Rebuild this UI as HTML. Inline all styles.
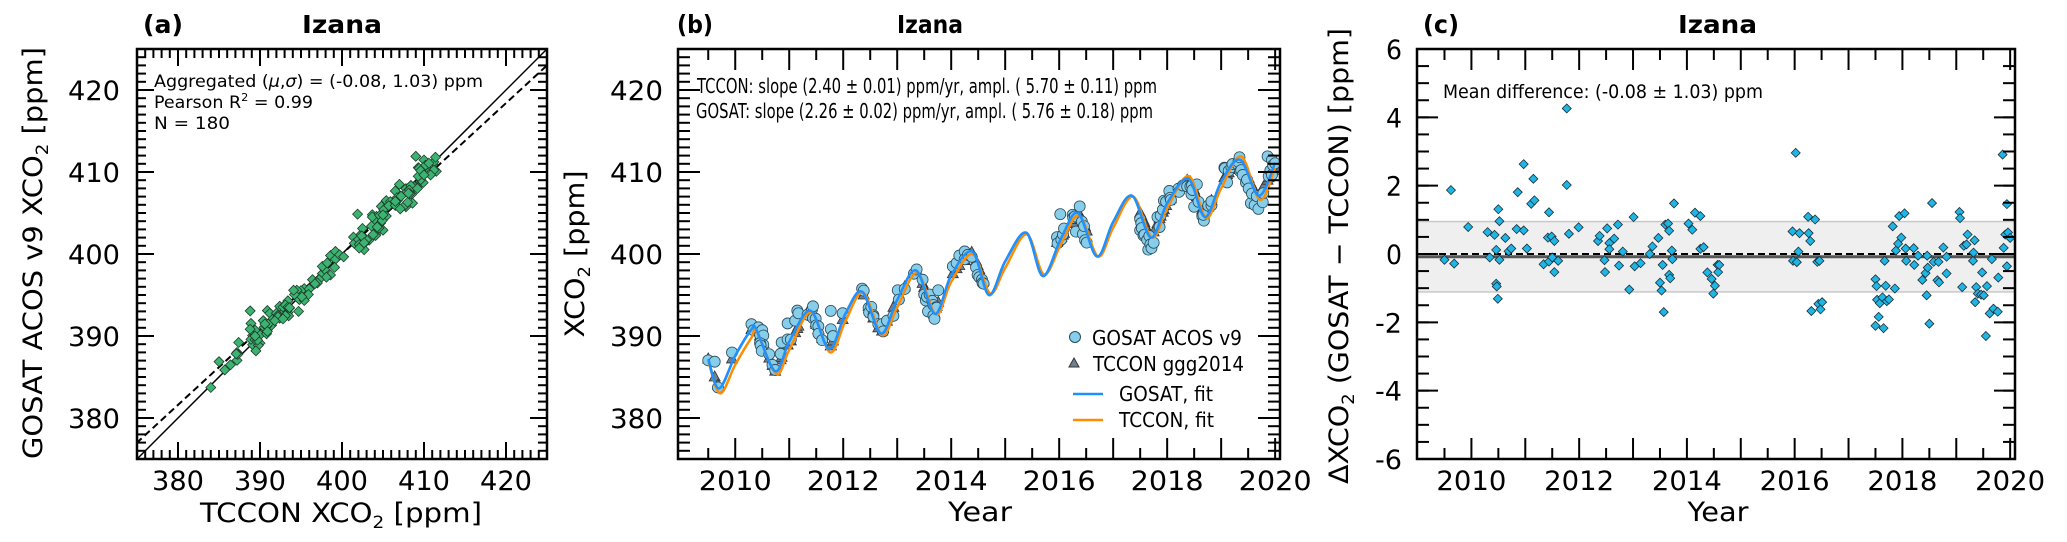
<!DOCTYPE html>
<html><head><meta charset="utf-8"><style>
html,body{margin:0;padding:0;background:#fff;}
svg{display:block;font-family:"DejaVu Sans","Liberation Sans",sans-serif;}
</style></head><body>
<svg id="fig" width="2067" height="542" viewBox="0 0 2067 542" xmlns="http://www.w3.org/2000/svg">
<defs>
<clipPath id="clipA"><rect x="137" y="49" width="410" height="410"/></clipPath>
<clipPath id="clipB"><rect x="678" y="49" width="602" height="410"/></clipPath>
<clipPath id="clipC"><rect x="1417" y="49" width="598" height="410"/></clipPath>
</defs>
<!-- Titles -->
<text x="143" y="33" font-size="25" font-weight="bold" textLength="40" lengthAdjust="spacingAndGlyphs">(a)</text>
<text x="302" y="33" font-size="25" font-weight="bold" textLength="80" lengthAdjust="spacingAndGlyphs">Izana</text>
<text x="677" y="33" font-size="25" font-weight="bold" textLength="36" lengthAdjust="spacingAndGlyphs">(b)</text>
<text x="897" y="33" font-size="25" font-weight="bold" textLength="66" lengthAdjust="spacingAndGlyphs">Izana</text>
<text x="1423" y="33" font-size="25" font-weight="bold" textLength="36" lengthAdjust="spacingAndGlyphs">(c)</text>
<text x="1678" y="33" font-size="25" font-weight="bold" textLength="79" lengthAdjust="spacingAndGlyphs">Izana</text>
<!-- Axis titles -->
<text x="200" y="522" font-size="27" textLength="282" lengthAdjust="spacingAndGlyphs">TCCON XCO<tspan font-size="17" dy="6">2</tspan><tspan dy="-6"> [ppm]</tspan></text>
<text transform="translate(42,253) rotate(-90)" text-anchor="middle" font-size="27" textLength="412" lengthAdjust="spacingAndGlyphs">GOSAT ACOS v9 XCO<tspan font-size="17" dy="6">2</tspan><tspan dy="-6"> [ppm]</tspan></text>
<text x="980" y="521" text-anchor="middle" font-size="27" textLength="64" lengthAdjust="spacingAndGlyphs">Year</text>
<text transform="translate(584,254) rotate(-90)" text-anchor="middle" font-size="27" textLength="167" lengthAdjust="spacingAndGlyphs">XCO<tspan font-size="17" dy="6">2</tspan><tspan dy="-6"> [ppm]</tspan></text>
<text x="1718" y="521" text-anchor="middle" font-size="27" textLength="61" lengthAdjust="spacingAndGlyphs">Year</text>
<text transform="translate(1348,256) rotate(-90)" text-anchor="middle" font-size="27" textLength="456" lengthAdjust="spacingAndGlyphs">ΔXCO<tspan font-size="17" dy="6">2</tspan><tspan dy="-6"> (GOSAT − TCCON) [ppm]</tspan></text>
<g id="gA"></g>
<g id="gB"></g>
<g id="gC"></g>
<!-- Annotations -->
<text x="154" y="87" font-size="17" textLength="329" lengthAdjust="spacingAndGlyphs">Aggregated (<tspan font-style="italic">μ</tspan>,<tspan font-style="italic">σ</tspan>) = (-0.08, 1.03) ppm</text>
<text x="154" y="108" font-size="17" textLength="159" lengthAdjust="spacingAndGlyphs">Pearson R<tspan font-size="11" dy="-7">2</tspan><tspan dy="7"> = 0.99</tspan></text>
<text x="154" y="129" font-size="17" textLength="76" lengthAdjust="spacingAndGlyphs">N =  180</text>
<text x="697" y="93" font-size="20" textLength="460" lengthAdjust="spacingAndGlyphs">TCCON: slope (2.40 ± 0.01) ppm/yr, ampl. ( 5.70 ± 0.11) ppm</text>
<text x="696" y="118" font-size="20" textLength="457" lengthAdjust="spacingAndGlyphs">GOSAT: slope (2.26 ± 0.02) ppm/yr, ampl. ( 5.76 ± 0.18) ppm</text>
<text x="1443" y="98" font-size="19" textLength="320" lengthAdjust="spacingAndGlyphs">Mean difference: (-0.08 ± 1.03) ppm</text>
<!-- Legend panel b -->
<g>
<circle cx="1075" cy="337" r="5.5" fill="#87ceeb" stroke="#2a4a5a" stroke-width="1"/>
<text x="1092" y="345" font-size="20" textLength="150" lengthAdjust="spacingAndGlyphs">GOSAT ACOS v9</text>
<polygon points="1074,358 1079,367 1069,367" fill="#708090" stroke="#333" stroke-width="1"/>
<text x="1093" y="371" font-size="20" textLength="151" lengthAdjust="spacingAndGlyphs">TCCON ggg2014</text>
<line x1="1073" y1="394" x2="1103" y2="394" stroke="#1e90ff" stroke-width="2.5"/>
<text x="1119" y="401" font-size="20" textLength="94" lengthAdjust="spacingAndGlyphs">GOSAT, fit</text>
<line x1="1073" y1="420" x2="1103" y2="420" stroke="#ff8c00" stroke-width="2.5"/>
<text x="1119" y="427" font-size="20" textLength="95" lengthAdjust="spacingAndGlyphs">TCCON, fit</text>
</g>
</svg>
<script>
const dates=[2009.50,2009.62,2009.68,2009.94,2010.30,2010.34,2010.43,2010.46,2010.50,2010.52,
2010.52,2010.46,2010.47,2010.49,2010.63,2010.69,2010.74,2010.84,2010.86,2010.97,
2010.97,2011.03,2011.11,2011.15,2011.17,2011.34,2011.42,2011.44,2011.44,2011.49,
2011.50,2011.54,2011.54,2011.61,2011.77,2011.77,2011.81,2011.99,2012.35,2012.38,
2012.47,2012.48,2012.52,2012.56,2012.56,2012.65,2012.72,2012.74,2012.81,2012.93,
2013.01,2013.03,2013.14,2013.31,2013.36,2013.47,2013.50,2013.53,2013.55,2013.57,
2013.60,2013.65,2013.67,2013.67,2013.69,2013.72,2013.73,2013.76,2014.03,2014.10,
2014.15,2014.25,2014.25,2014.31,2014.38,2014.46,2014.49,2014.52,2014.57,2014.58,
2014.60,2015.96,2015.97,2016.02,2016.04,2016.07,2016.09,2016.25,2016.26,2016.29,
2016.31,2016.38,2016.42,2016.44,2016.46,2016.48,2016.51,2017.50,2017.52,2017.50,
2017.53,2017.56,2017.58,2017.63,2017.65,2017.67,2017.69,2017.71,2017.75,2017.82,
2017.86,2017.88,2017.92,2017.94,2017.98,2018.04,2018.06,2018.07,2018.21,2018.22,
2018.29,2018.37,2018.43,2018.45,2018.46,2018.47,2018.50,2018.55,2018.58,2018.65,
2018.68,2018.67,2018.76,2018.82,2018.82,2019.06,2019.07,2019.11,2019.14,2019.19,
2019.21,2019.31,2019.32,2019.34,2019.35,2019.37,2019.40,2019.46,2019.48,2019.51,
2019.55,2019.57,2019.62,2019.66,2019.69,2019.77,2019.78,2019.86,2019.88,2019.91,
2019.94,2019.94,2019.96,2020.00];
const tccon=[387.2,385.0,384.0,387.2,390.8,390.8,390.5,390.0,389.4,389.1,
389.1,390.0,389.8,389.5,387.3,386.4,385.7,387.1,387.4,388.9,
388.9,389.4,390.4,390.9,391.2,392.9,392.7,392.4,392.4,391.6,
391.4,390.8,390.8,389.7,388.8,388.8,389.4,392.0,395.4,395.0,
393.6,393.4,392.8,392.2,392.2,391.0,390.6,390.9,391.8,393.5,
394.5,394.8,396.0,397.6,397.9,396.4,395.9,395.4,395.1,394.7,
394.2,393.4,393.1,393.1,392.8,393.4,393.6,394.1,397.6,398.2,
398.6,399.2,399.2,399.7,400.2,399.1,398.6,398.1,397.2,397.0,
396.7,401.4,401.5,401.9,402.0,402.3,402.5,403.7,403.8,404.2,
404.4,404.8,404.2,403.9,403.6,403.3,402.8,405.0,404.7,405.0,
404.5,404.1,403.8,403.0,402.7,402.4,402.1,402.1,402.7,403.7,
404.3,404.6,405.1,405.4,405.9,406.5,406.7,406.8,407.8,407.9,
408.4,409.0,408.8,408.5,408.4,408.2,407.8,407.0,406.6,405.4,
404.9,405.0,405.7,406.5,406.5,409.3,409.4,409.7,409.9,410.3,
410.4,411.1,411.2,411.4,411.5,411.2,410.8,409.9,409.6,409.2,
408.6,408.3,407.7,407.2,407.1,408.0,408.1,409.0,409.3,409.6,
410.0,410.0,410.2,410.6];
const diffs=[-0.17,1.87,-0.28,0.79,0.64,-0.10,0.56,0.12,1.31,0.96,
-0.17,-0.87,-0.95,-1.31,0.47,0.08,0.16,0.73,1.81,0.69,
2.63,0.16,1.47,2.20,1.57,-0.30,0.48,1.22,-0.22,0.51,
-0.10,0.38,-0.53,-0.20,4.26,2.02,0.59,0.78,0.38,0.53,
-0.18,-0.53,0.75,0.32,0.14,0.45,0.86,-0.34,0.07,-1.04,
1.08,-0.36,-0.27,0.00,0.22,0.47,-0.84,-1.07,-0.32,-1.70,
0.86,0.89,0.68,-0.61,-0.71,0.10,-0.15,1.48,0.89,0.71,
1.21,1.11,0.15,0.20,-0.54,-0.73,-1.16,-0.93,-0.32,-0.53,
-0.32,0.66,-0.20,2.96,-0.24,0.07,0.61,1.09,0.61,0.38,
-1.67,1.01,-0.23,-1.46,-0.20,-1.62,-1.41,-0.74,-0.94,-2.10,
-1.34,-1.84,-1.44,-1.27,-2.17,-0.20,-0.93,-1.38,-1.33,0.81,
-1.01,0.10,0.30,1.11,0.48,1.19,0.16,-0.20,0.17,-0.32,
-0.05,-0.76,-0.56,-1.21,-0.05,-0.40,-2.04,1.49,-0.23,-0.77,
-0.83,-0.23,0.19,-0.57,-0.08,1.23,1.05,-0.97,0.24,0.28,
0.57,-0.20,0.04,0.40,-1.41,-0.97,-1.16,-1.19,-0.54,-1.21,
-2.40,-0.94,-1.74,-0.15,-1.60,-1.69,-0.69,2.91,0.18,0.57,
-0.36,1.46,0.63,0.47];
const gosatFitX=[2009.50,2009.70,2010.0,2010.30,2010.39,2010.74,2011.0,2011.39,2011.74,2012.04,2012.35,2012.70,2013.0,2013.35,2013.70,2014.0,2014.39,2014.70,2015.0,2015.39,2015.70,2016.04,2016.35,2016.70,2017.0,2017.35,2017.70,2018.0,2018.39,2018.70,2019.0,2019.35,2019.70,2020.0];
const gosatFitY=[387.2,383.6,387.6,390.8,390.8,385.7,389.3,393.1,388.4,392.7,395.4,390.3,394.4,398.0,392.7,397.4,400.3,395.0,399.1,402.6,397.3,402.0,405.0,399.7,403.9,407.1,402.0,406.2,409.2,404.5,408.8,411.5,407.1,411.1];
const tcconFitX=[2009.50,2009.72,2010.0,2010.30,2010.40,2010.76,2011.0,2011.40,2011.76,2012.04,2012.37,2012.72,2013.0,2013.37,2013.72,2014.0,2014.40,2014.72,2015.0,2015.40,2015.72,2016.04,2016.37,2016.72,2017.0,2017.37,2017.72,2018.0,2018.40,2018.72,2019.0,2019.37,2019.72,2020.0];
const tcconFitY=[387.0,383.0,386.5,389.8,390.5,385.4,388.3,392.9,388.0,391.8,395.3,390.1,393.5,397.7,392.6,396.6,400.0,395.2,398.3,402.4,397.5,401.3,404.7,399.7,403.2,407.0,402.0,405.6,409.5,404.4,408.0,411.9,406.6,410.5];
const ppmTicks=[380,390,400,410,420];
const yearTicks=[2010,2012,2014,2016,2018,2020];
const diffTicks=[-6,-4,-2,0,2,4,6];
const meanDiff=-0.08;
const sdDiff=1.03;
const regSlope=0.92;
const regAt400=400.0;

const NS='http://www.w3.org/2000/svg';
function mk(tag,attrs,parent){const e=document.createElementNS(NS,tag);for(const k in attrs)e.setAttribute(k,attrs[k]);parent.appendChild(e);return e;}
function lin(d0,d1,r0,r1){return v=>r0+(v-d0)/(d1-d0)*(r1-r0);}

const A={x0:137,x1:547,y0:49,y1:459}, B={x0:678,x1:1280,y0:49,y1:459}, C={x0:1417,x1:2015,y0:49,y1:459};
const ax=lin(375,425,A.x0,A.x1), ay=lin(375,425,A.y1,A.y0);
const bx=lin(2008.94,2020.09,B.x0,B.x1), by=lin(375,425,B.y1,B.y0);
const cx=lin(2008.99,2020.09,C.x0,C.x1), cy=lin(-6,6,C.y1,C.y0);
const gA=document.getElementById('gA'), gB=document.getElementById('gB'), gC=document.getElementById('gC');

function ticks(g,P,vals,sc,axis,len,sides,name){
  vals.forEach(v=>{
    const p=sc(v);
    sides.forEach(s=>{
      let a;
      if(axis==='x'){a=s==='b'?{x1:p,y1:P.y1,x2:p,y2:P.y1-len}:{x1:p,y1:P.y0,x2:p,y2:P.y0+len};}
      else{a=s==='l'?{x1:P.x0,y1:p,x2:P.x0+len,y2:p}:{x1:P.x1,y1:p,x2:P.x1-len,y2:p};}
      a.stroke='#000';a['stroke-width']=2;
      const t=mk('line',a,g);
      
      
    });
  });
}
function range(a,b,s){const r=[];for(let v=a;v<=b+1e-9;v+=s)r.push(+v.toFixed(3));return r;}
function label(g,x,y,txt,anchor,w,name){
  const t=mk('text',{x:x,y:y,'text-anchor':anchor,'font-size':27,textLength:w,lengthAdjust:'spacingAndGlyphs'},g);
  t.textContent=txt;
  
  
}
function frame(g,P,name){
  const r=mk('rect',{x:P.x0,y:P.y0,width:P.x1-P.x0,height:P.y1-P.y0,fill:'none',stroke:'#000','stroke-width':2.5},g);
  
  
}
function smoothPath(xs,ys,sx,sy){
  const p=xs.map((x,i)=>[sx(x),sy(ys[i])]);
  let d='M'+p[0][0]+','+p[0][1];
  for(let i=0;i<p.length-1;i++){
    const p0=p[i-1]||p[i],p1=p[i],p2=p[i+1],p3=p[i+2]||p2;
    const c1=[p1[0]+(p2[0]-p0[0])/6,p1[1]+(p2[1]-p0[1])/6];
    const c2=[p2[0]-(p3[0]-p1[0])/6,p2[1]-(p3[1]-p1[1])/6];
    d+=' C'+c1[0]+','+c1[1]+' '+c2[0]+','+c2[1]+' '+p2[0]+','+p2[1];
  }
  return d;
}
function diamond(x,y,r){return `${x},${y-r} ${x+r},${y} ${x},${y+r} ${x-r},${y}`;}

/* Panel A */
const gAc=mk('g',{'clip-path':'url(#clipA)'},gA);
const oneToOne=mk('line',{x1:ax(375),y1:ay(375),x2:ax(425),y2:ay(425),stroke:'#000','stroke-width':1.5},gAc);


const reg=mk('line',{x1:ax(370),y1:ay(regAt400+regSlope*(370-400)),x2:ax(430),y2:ay(regAt400+regSlope*(430-400)),stroke:'#000','stroke-width':2,'stroke-dasharray':'7,4'},gAc);


tccon.forEach((t,i)=>{
  const m=mk('polygon',{points:diamond(ax(t),ay(t+diffs[i]),5),fill:'#3cb371',stroke:'#1d3b2a','stroke-width':0.8},gAc);
  
  
});
ticks(gA,A,range(376,424,1),ax,'x',9,['b','t'],'x-minor-tick');
ticks(gA,A,range(376,424,1),ay,'y',9,['l','r'],'y-minor-tick');
ticks(gA,A,ppmTicks,ax,'x',17,['b','t'],'x-major-tick');
ticks(gA,A,ppmTicks,ay,'y',17,['l','r'],'y-major-tick');
ppmTicks.forEach(v=>{label(gA,ax(v),490,String(v),'middle',52,'x-tick-label');label(gA,120,ay(v)+10,String(v),'end',52,'y-tick-label');});
frame(gA,A,'panel-a-frame');

/* Panel B */
const gBc=mk('g',{'clip-path':'url(#clipB)'},gB);
const gf=mk('path',{d:smoothPath(gosatFitX,gosatFitY,bx,by),fill:'none',stroke:'#1e90ff','stroke-width':2.5},gBc);


tccon.forEach((t,i)=>{
  const x=bx(dates[i]),y=by(t);
  const m=mk('polygon',{points:`${x},${y-6} ${x+5.5},${y+4} ${x-5.5},${y+4}`,fill:'#708090',stroke:'#333','stroke-width':0.8},gBc);
  
  
});
tccon.forEach((t,i)=>{
  const m=mk('circle',{cx:bx(dates[i]),cy:by(t+diffs[i]),r:5.5,fill:'#87ceeb',stroke:'#2a4a5a','stroke-width':0.8},gBc);
  
  
});
const of=mk('path',{d:smoothPath(tcconFitX,tcconFitY,bx,by),fill:'none',stroke:'#ff8c00','stroke-width':2.5},gBc);


const gf2=mk('path',{d:smoothPath(gosatFitX,gosatFitY,bx,by),fill:'none',stroke:'#1e90ff','stroke-width':2.5},gBc);


ticks(gB,B,range(2009.5,2019.5,1),bx,'x',11,['b','t'],'x-minor-tick');
ticks(gB,B,range(2010,2020,1),bx,'x',21,['b','t'],'x-major-tick');
ticks(gB,B,range(376,424,1),by,'y',12,['l','r'],'y-minor-tick');
ticks(gB,B,ppmTicks,by,'y',22,['l','r'],'y-major-tick');
yearTicks.forEach(v=>label(gB,bx(v),490,String(v),'middle',73,'x-tick-label'));
ppmTicks.forEach(v=>label(gB,663,by(v)+10,String(v),'end',53,'y-tick-label'));
frame(gB,B,'panel-b-frame');

/* Panel C */
const gCc=mk('g',{'clip-path':'url(#clipC)'},gC);
const band=mk('rect',{x:C.x0,y:cy(meanDiff+sdDiff),width:C.x1-C.x0,height:cy(meanDiff-sdDiff)-cy(meanDiff+sdDiff),fill:'#efefef',stroke:'#c8c8c8','stroke-width':1.5},gCc);


const ml=mk('line',{x1:C.x0,y1:cy(meanDiff),x2:C.x1,y2:cy(meanDiff),stroke:'#555','stroke-width':3},gCc);


const zl=mk('line',{x1:C.x0,y1:cy(0),x2:C.x1,y2:cy(0),stroke:'#000','stroke-width':2,'stroke-dasharray':'7,4'},gCc);


diffs.forEach((d,i)=>{
  const m=mk('polygon',{points:diamond(cx(dates[i]),cy(d),4.5),fill:'#1fb6e6',stroke:'#1a2f3a','stroke-width':0.8},gCc);
  
  
});
ticks(gC,C,range(2009.5,2019.5,1),cx,'x',11,['b','t'],'x-minor-tick');
ticks(gC,C,range(2010,2020,1),cx,'x',21,['b','t'],'x-major-tick');
ticks(gC,C,range(-5.5,5.5,0.5),cy,'y',12,['l','r'],'y-minor-tick');
ticks(gC,C,diffTicks,cy,'y',21,['l','r'],'y-major-tick');
yearTicks.forEach(v=>label(gC,cx(v),490,String(v),'middle',70,'x-tick-label'));
diffTicks.forEach(v=>label(gC,1402,cy(v)+10,String(v),'end',v<0?27:16,'y-tick-label'));
frame(gC,C,'panel-c-frame');
</script>
</body></html>
